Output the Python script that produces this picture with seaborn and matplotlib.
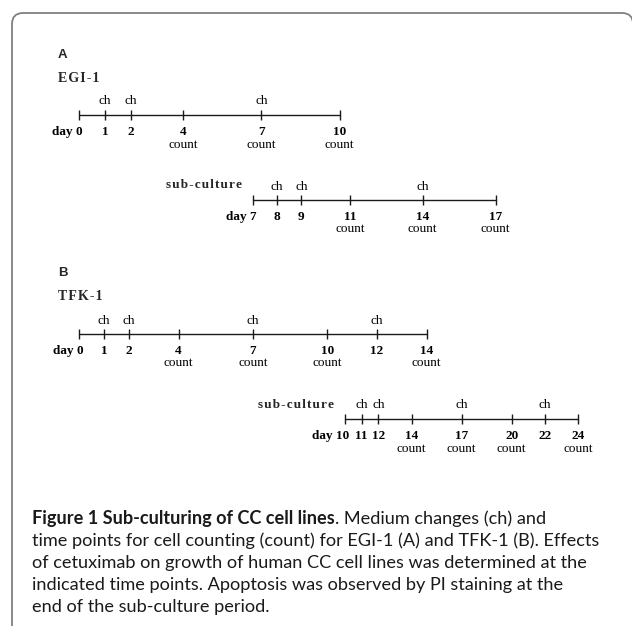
import matplotlib
matplotlib.use("Agg")
import matplotlib.pyplot as plt
import seaborn as sns
import pandas as pd
from matplotlib.patches import FancyBboxPatch

sns.set_theme(style="white")
plt.rcParams['font.family'] = ['Liberation Serif', 'DejaVu Serif']

# ---------------- data ----------------
a_days = [0, 1, 2, 4, 7, 10]
a_ch = [1, 2, 7]
a_count = [4, 7, 10]

asub_days = [7, 8, 9, 11, 14, 17]
asub_ch = [8, 9, 14]
asub_count = [11, 14, 17]

b_days = [0, 1, 2, 4, 7, 10, 12, 14]
b_ch = [1, 2, 7, 12]
b_count = [4, 7, 10, 14]

bsub_days = [10, 11, 12, 14, 17, 20, 22, 24]
bsub_ch = [11, 12, 17, 22]
bsub_count = [14, 17, 20, 24]

panel_labels = ["A", "B"]
cell_lines = ["EGI-1", "TFK-1"]
sub_label = "sub-culture"
ch_label = "ch"
count_label = "count"
day_word = "day"

caption_bold = "Figure 1 Sub-culturing of CC cell lines"
caption_lines = [
    ". Medium changes (ch) and",
    "time points for cell counting (count) for EGI-1 (A) and TFK-1 (B). Effects",
    "of cetuximab on growth of human CC cell lines was determined at the",
    "indicated time points. Apoptosis was observed by PI staining at the",
    "end of the sub-culture period.",
]

# ---------------- layout ----------------
W, H = 632, 626
DPI = 100
fig = plt.figure(figsize=(W / DPI, H / DPI), dpi=DPI)
PT = 72.0 / DPI  # points per pixel

ov = fig.add_axes([0, 0, 1, 1])
ov.set_xlim(0, W)
ov.set_ylim(H, 0)
ov.axis("off")

border = FancyBboxPatch((12, 13), 621, 700,
                        boxstyle="round,pad=0,rounding_size=11",
                        fill=False, edgecolor="#808080", lw=1.3)
ov.add_patch(border)

serif = ['Liberation Serif', 'DejaVu Serif']
sans_head = ['Liberation Sans', 'DejaVu Sans']
FS = 9.5


def spaced(s):
    return "\u200a".join(list(s))


def timeline(days, ch, count, x0, x1, y):
    ax = fig.add_axes([0, 1 - (y + 20) / H, 1, 40 / H])
    scale = (x1 - x0) / (days[-1] - days[0])
    ax.set_xlim(days[0] - x0 / scale, days[0] + (W - x0) / scale)
    ax.set_ylim(-1, 1)
    ax.axis("off")
    df = pd.DataFrame({"day": days, "y": [0] * len(days)})
    sns.lineplot(data=df, x="day", y="y", ax=ax, color="#1a1a1a", lw=1.0,
                 marker="|", markersize=6.5, markeredgewidth=1.0,
                 markeredgecolor="#1a1a1a", legend=False)
    for d in days[1:]:
        ax.annotate(str(d), (d, 0), xytext=(0, -17 * PT), textcoords="offset points",
                    ha="center", va="center", fontsize=FS, fontweight="bold",
                    family=serif, color="black")
    ax.annotate(f"{day_word} {days[0]}", (days[0], 0), xytext=(4 * PT, -17 * PT),
                textcoords="offset points", ha="right", va="center", fontsize=FS,
                fontweight="bold", family=serif, color="black")
    for d in ch:
        ax.annotate(ch_label, (d, 0), xytext=(0, 13.5 * PT), textcoords="offset points",
                    ha="center", va="center", fontsize=FS, family=serif, color="black")
    for d in count:
        ax.annotate(count_label, (d, 0), xytext=(0, -29.5 * PT), textcoords="offset points",
                    ha="center", va="center", fontsize=FS, family=serif, color="black")
    return ax


# panel A
ov.text(58, 55, panel_labels[0], fontsize=9.5, fontweight="bold", family=sans_head,
        ha="left", va="center")
ov.text(58, 78, spaced(cell_lines[0]), fontsize=10, fontweight="bold", family=serif,
        ha="left", va="center")
timeline(a_days, a_ch, a_count, 79, 339.5, 115)
ov.text(166, 185, spaced(sub_label), fontsize=9.5, fontweight="bold", family=serif,
        ha="left", va="center")
timeline(asub_days, asub_ch, asub_count, 252.7, 495.5, 200)

# panel B
ov.text(58, 273, panel_labels[1], fontsize=9.5, fontweight="bold", family=sans_head,
        ha="left", va="center")
ov.text(58, 297, spaced(cell_lines[1]), fontsize=10, fontweight="bold", family=serif,
        ha="left", va="center")
timeline(b_days, b_ch, b_count, 79.3, 426.7, 334)
ov.text(258, 405, spaced(sub_label), fontsize=9.5, fontweight="bold", family=serif,
        ha="left", va="center")
timeline(bsub_days, bsub_ch, bsub_count, 345, 578.3, 419)

# caption (font size fitted so the longest line spans the target width)
cap_font = ['Lato', 'DejaVu Sans']
cap_x = 32
cap_right = 600
cap_y0 = 524
cap_dy = 22
cap_color = "#1a1a1a"

r = fig.canvas.get_renderer()
probe = ov.text(0, 0, caption_lines[1], fontsize=10, family=cap_font)
w10 = probe.get_window_extent(r).width
probe.remove()
cap_fs = 10 * (cap_right - cap_x) / w10

t_bold = ov.text(cap_x, cap_y0, caption_bold, fontsize=cap_fs, fontweight="bold",
                 family=cap_font, ha="left", va="baseline", color=cap_color)
bb = t_bold.get_window_extent(r)
x_end = ov.transData.inverted().transform((bb.x1, bb.y0))[0]
ov.text(x_end, cap_y0, caption_lines[0], fontsize=cap_fs, family=cap_font,
        ha="left", va="baseline", color=cap_color)
for i, line in enumerate(caption_lines[1:], start=1):
    ov.text(cap_x, cap_y0 + i * cap_dy, line, fontsize=cap_fs, family=cap_font,
            ha="left", va="baseline", color=cap_color)

fig.savefig("out.png", dpi=DPI)
